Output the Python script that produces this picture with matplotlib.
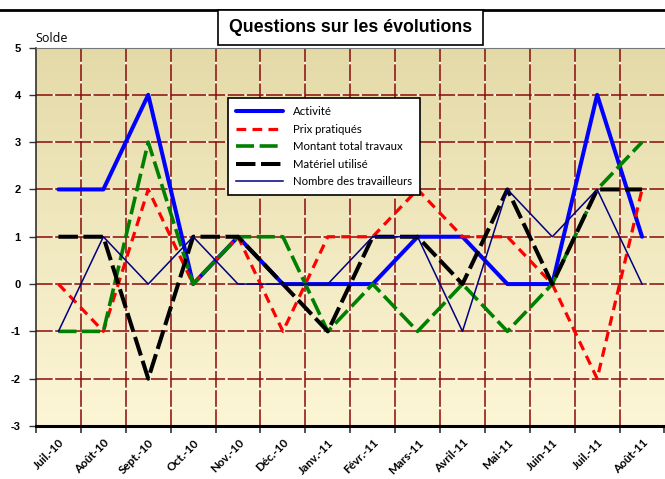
import matplotlib
matplotlib.use("Agg")
import matplotlib.pyplot as plt
import numpy as np
from matplotlib.colors import LinearSegmentedColormap
from matplotlib.lines import Line2D
from matplotlib.patches import Rectangle

categories = ["Juil.-10", "Août-10", "Sept.-10", "Oct.-10", "Nov.-10", "Déc.-10",
              "Janv.-11", "Févr.-11", "Mars-11", "Avril-11", "Mai-11", "Juin-11",
              "Juil.-11", "Août-11"]
activite = [2, 2, 4, 0, 1, 0, 0, 0, 1, 1, 0, 0, 4, 1]
prix = [0, -1, 2, 0, 1, -1, 1, 1, 2, 1, 1, 0, -2, 2]
montant = [-1, -1, 3, 0, 1, 1, -1, 0, -1, 0, -1, 0, 2, 3]
materiel = [1, 1, -2, 1, 1, 0, -1, 1, 1, 0, 2, 0, 2, 2]
nombre = [-1, 1, 0, 1, 0, 0, 0, 1, 1, -1, 2, 1, 2, 0]
yticks = [-3, -2, -1, 0, 1, 2, 3, 4, 5]

plt.rcParams['lines.scale_dashes'] = False

W, H = 665, 479
fig = plt.figure(figsize=(W / 100, H / 100), dpi=100)
fig.patch.set_facecolor('white')

left, right, top, bottom = 36, 664.5, 47.5, 426
ax = fig.add_axes([left / W, 1 - bottom / H, (right - left) / W, (bottom - top) / H])

n = len(categories)
x = np.arange(n)
ax.set_xlim(-0.5, n - 0.5)
ax.set_ylim(-3, 5)

# gradient background
cmap = LinearSegmentedColormap.from_list('bg', ['#FDF6D6', '#E4DAA8'])
grad = np.linspace(0, 1, 256).reshape(-1, 1)
ax.imshow(grad, extent=[-0.5, n - 0.5, -3, 5], origin='lower', aspect='auto',
          cmap=cmap, zorder=0)

# grid
gkw = dict(color='#8B0A0A', lw=1.1, dashes=(12, 1.8), gapcolor='#FFFFFF', zorder=1)
for xv in np.arange(-0.5, n - 0.5, 1.0)[1:]:
    ax.add_line(Line2D([xv, xv], [-3, 5], **gkw))
for yv in yticks[1:-1]:
    ax.add_line(Line2D([-0.5, n - 0.5], [yv, yv], **gkw))

# series
ax.plot(x, activite, color='#0000FF', lw=2.9, solid_capstyle='round', zorder=3, label='Activité')
ax.plot(x, prix, color='#FF0000', lw=2.3, dashes=(7, 4.5), zorder=4, label='Prix pratiqués')
ax.plot(x, montant, color='#008000', lw=2.6, dashes=(13, 4), zorder=5, label='Montant total travaux')
ax.plot(x, materiel, color='#000000', lw=2.9, dashes=(14, 4), zorder=6, label='Matériel utilisé')
ax.plot(x, nombre, color='#000080', lw=1.1, zorder=7, label='Nombre des travailleurs')

# ticks
ax.set_xticks(np.arange(-0.5, n, 1.0))
ax.set_xticklabels([])
ax.set_xticks(x, minor=True)
ax.set_xticklabels(categories, minor=True, rotation=45, ha='right', va='top',
                   rotation_mode='anchor', fontsize=8.4, fontweight='bold', family='Lato')
ax.tick_params(axis='x', which='minor', length=0, pad=8)
ax.tick_params(axis='x', which='major', direction='out', length=5, width=1.2, color='#333333')
ax.set_yticks(yticks)
ax.set_yticklabels([str(v) for v in yticks], fontsize=8, fontweight='bold', family='Liberation Sans')
ax.tick_params(axis='y', direction='out', length=5, width=1, color='#333333', pad=6)

ax.spines['right'].set_visible(False)
ax.spines['top'].set_color('#777777')
ax.spines['top'].set_linewidth(0.8)
ax.spines['left'].set_color('#222222')
ax.spines['left'].set_linewidth(1.1)
ax.spines['bottom'].set_color('#000000')
ax.spines['bottom'].set_linewidth(2.2)
for s in ax.spines.values():
    s.set_zorder(8)

# legend
leg = ax.legend(loc='upper left', bbox_to_anchor=(228 / W, 1 - 98 / H),
                bbox_transform=fig.transFigure, borderaxespad=0,
                prop={'family': 'Lato', 'size': 8.2}, handlelength=4.1,
                labelspacing=0.58, handletextpad=0.9, borderpad=0.7,
                frameon=True, fancybox=False, framealpha=1)
leg.get_frame().set_edgecolor('black')
leg.get_frame().set_linewidth(1.2)
leg.set_zorder(10)

# Solde label
fig.text(35 / W, 1 - 38 / H, 'Solde', fontsize=9, family='Open Sans',
         ha='left', va='center')

# top border line
fig.add_artist(Line2D([0, 1], [1 - 9.5 / H, 1 - 9.5 / H], transform=fig.transFigure,
                      color='black', lw=2))

# title box
fig.add_artist(Rectangle((218 / W, 1 - 44.5 / H), (483 - 218) / W, (44.5 - 10) / H,
                         transform=fig.transFigure, facecolor='white',
                         edgecolor='black', lw=1.2, zorder=20))
fig.text(351 / W, 1 - 27 / H, 'Questions sur les évolutions', fontsize=12.8,
         fontweight='bold', family='Liberation Sans', ha='center', va='center', zorder=21)

fig.savefig('out.png', dpi=100)
